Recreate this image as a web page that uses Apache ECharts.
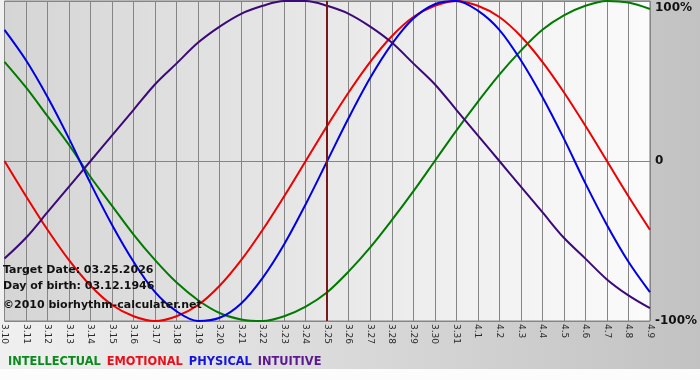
<!DOCTYPE html>
<html>
<head>
<meta charset="utf-8">
<title>Biorhythm</title>
<script src="https://cdn.jsdelivr.net/npm/echarts@6/dist/echarts.min.js"></script>
<style>
  html, body { margin: 0; padding: 0; background: #fff; }
  #chart { width: 700px; height: 380px; }
</style>
</head>
<body>
<div id="chart"></div>
<script>
// day labels, 3.10 .. 4.9
const days = [
  '3.10', '3.11', '3.12', '3.13', '3.14', '3.15', '3.16', '3.17', '3.18', '3.19', '3.20',
  '3.21', '3.22', '3.23', '3.24', '3.25', '3.26', '3.27', '3.28', '3.29', '3.30', '3.31',
  '4.1', '4.2', '4.3', '4.4', '4.5', '4.6', '4.7', '4.8', '4.9'
];

// values in percent, one per day
const intellectual = [62, 46, 28, 10, -10, -28, -46, -62, -76, -87, -95, -99, -100, -97, -91, -82,
  -69, -54, -37, -19, 0, 19, 37, 54, 69, 82, 91, 97, 100, 99, 95];
const emotional = [0, -22, -43, -62, -78, -90, -97, -100, -97, -90, -78, -62, -43, -22, 0, 22,
  43, 62, 78, 90, 97, 100, 97, 90, 78, 62, 43, 22, 0, -22, -43];
const physical = [82, 63, 40, 14, -14, -40, -63, -82, -94, -100, -98, -89, -73, -52, -27, 0,
  27, 52, 73, 89, 98, 100, 94, 82, 63, 40, 14, -14, -40, -63, -82];
const intuitive = [-61, -48, -32, -16, 0, 16, 32, 48, 61, 74, 84, 92, 97, 100, 100, 97,
  92, 84, 74, 61, 48, 32, 16, 0, -16, -32, -48, -61, -74, -84, -92];

const targetDay = '3.25';
const infoLines = [
  'Target Date: 03.25.2026',
  'Day of birth: 03.12.1946',
  '\u00a92010 biorhythm-calculater.net'
];

const FONT = '"DejaVu Sans", Verdana, sans-serif';
const GRID_LINE = '#858585';

const curves = [
  { name: 'INTELLECTUAL', data: intellectual, color: '#007a00', text: '#0b8a1e' },
  { name: 'EMOTIONAL', data: emotional, color: '#ee0000', text: '#e8101c' },
  { name: 'PHYSICAL', data: physical, color: '#0000e6', text: '#1414dc' },
  { name: 'INTUITIVE', data: intuitive, color: '#3c0a78', text: '#5c1890' }
];

const chart = echarts.init(document.getElementById('chart'), null, { renderer: 'canvas' });

const option = {
  animation: false,
  backgroundColor: new echarts.graphic.LinearGradient(0, 0, 1, 0, [
    { offset: 0, color: '#f0f0f0' },
    { offset: 1, color: '#c2c2c2' }
  ]),
  grid: {
    left: 0,
    right: 49,
    top: 1,
    bottom: 59,
    show: true,
    borderColor: GRID_LINE,
    borderWidth: 1,
    backgroundColor: new echarts.graphic.LinearGradient(0, 0, 1, 0, [
      { offset: 0, color: '#d5d5d5' },
      { offset: 0.5, color: '#e8e8e8' },
      { offset: 1, color: '#fbfbfb' }
    ])
  },
  legend: {
    left: 3,
    top: 357,
    padding: 0,
    icon: 'rect',
    itemWidth: 0,
    itemHeight: 0,
    itemGap: 1,
    selectedMode: false,
    textStyle: { fontFamily: FONT, fontWeight: 'bold', fontSize: 11.4 },
    data: curves.map((c) => ({ name: c.name, textStyle: { color: c.text } }))
  },
  xAxis: {
    type: 'category',
    data: days,
    boundaryGap: false,
    axisLine: { lineStyle: { color: GRID_LINE } },
    axisTick: { show: true, interval: 0, length: 3, lineStyle: { color: GRID_LINE } },
    axisLabel: {
      interval: 0,
      rotate: -90,
      margin: 3,
      color: '#2a2a2a',
      fontFamily: FONT,
      fontSize: 9
    },
    splitLine: { show: true, interval: 0, lineStyle: { color: GRID_LINE, width: 1 } }
  },
  yAxis: {
    type: 'value',
    position: 'right',
    min: -100,
    max: 100,
    interval: 100,
    axisLine: { show: false },
    axisTick: { show: false },
    axisLabel: {
      margin: 5,
      color: '#111',
      fontFamily: FONT,
      fontWeight: 'bold',
      fontSize: 12,
      // top label sits below the plot edge
      formatter: (v) => (v === 100 ? '{top|100%}' : v === 0 ? '0' : v + '%'),
      rich: {
        top: { padding: [14, 0, 0, 0], fontFamily: FONT, fontWeight: 'bold', fontSize: 12, color: '#111' }
      }
    },
    splitLine: { show: true, lineStyle: { color: GRID_LINE, width: 1 } }
  },
  graphic: infoLines.map((t, i) => ({
    type: 'text',
    left: 3,
    top: [265, 281, 300][i],
    z: 100,
    style: { text: t, fill: '#111', font: 'bold 11px ' + FONT }
  })).concat([{
    type: 'rect',
    left: 0,
    bottom: 0,
    z: 0,
    shape: { width: 700, height: 11 },
    style: { fill: '#fcfcfc' }
  }]),
  series: curves.map((c, i) => ({
    name: c.name,
    type: 'line',
    data: c.data,
    smooth: 0.33,
    symbol: 'none',
    lineStyle: { width: 2, color: c.color },
    itemStyle: { color: c.color },
    markLine: i === 0 ? {
      silent: true,
      symbol: ['none', 'none'],
      label: { show: false },
      lineStyle: { color: '#761818', width: 2, type: 'solid' },
      data: [{ xAxis: targetDay }]
    } : undefined
  }))
};

chart.setOption(option);
</script>
</body>
</html>
